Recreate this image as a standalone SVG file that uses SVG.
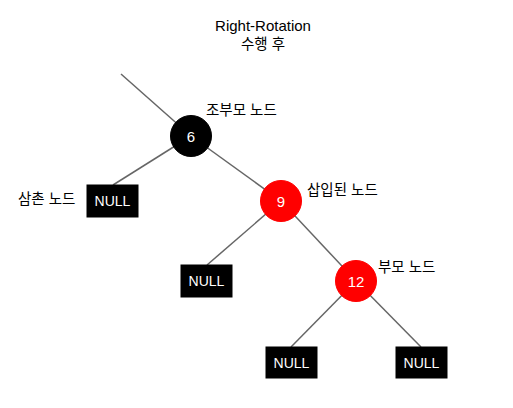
<svg xmlns="http://www.w3.org/2000/svg" width="513" height="408" viewBox="0 0 513 408">
<style>
text{font-family:"Liberation Sans","Noto Sans CJK KR",sans-serif;font-size:13px;fill:#000}
.ko{font-size:14.5px}
.tt{font-size:15px}
.red{fill:#ff0000;stroke:#ff0000}
.blk{fill:#000;stroke:#000}
.w{fill:#fff;font-size:15px;text-anchor:middle;dominant-baseline:central}
.nl{fill:#fff;font-size:14px;text-anchor:middle;dominant-baseline:central}
.edge{stroke:#666;stroke-width:1.5;fill:none}
</style>
<rect width="513" height="408" fill="#fff"/>
<g id="connectors">
<line class="edge" x1="121" y1="74" x2="191" y2="136"/>
<line class="edge" x1="191" y1="136" x2="113" y2="185"/>
<line class="edge" x1="191" y1="136" x2="281" y2="201"/>
<line class="edge" x1="281" y1="201" x2="207" y2="265"/>
<line class="edge" x1="281" y1="201" x2="356" y2="281"/>
<line class="edge" x1="356" y1="281" x2="291" y2="347"/>
<line class="edge" x1="356" y1="281" x2="421" y2="347"/>
</g>
<g id="title"><text class="tt" x="263" y="31" text-anchor="middle">Right-Rotation</text><text class="ko" x="263" y="49" text-anchor="middle">수행 후</text></g>
<g id="n6"><circle class="blk" cx="191" cy="136" r="20.5"/><text class="w" x="191" y="136">6</text></g>
<g id="n9"><circle class="red" cx="281" cy="201" r="20.5"/><text class="w" x="281" y="201">9</text></g>
<g id="n12"><circle class="red" cx="356" cy="281" r="20.5"/><text class="w" x="356" y="281">12</text></g>
<g id="null1"><rect class="blk" x="87" y="185" width="51" height="32"/><text class="nl" x="112.5" y="201">NULL</text></g>
<g id="null2"><rect class="blk" x="181" y="265" width="51" height="32"/><text class="nl" x="206.5" y="281">NULL</text></g>
<g id="null3"><rect class="blk" x="266" y="347" width="51" height="31"/><text class="nl" x="291.5" y="362.5">NULL</text></g>
<g id="null4"><rect class="blk" x="396" y="347" width="51" height="31"/><text class="nl" x="421.5" y="362.5">NULL</text></g>
<g id="labels">
<text class="ko" x="206" y="115">조부모 노드</text>
<text class="ko" x="18" y="204">삼촌 노드</text>
<text class="ko" x="307" y="195">삽입된 노드</text>
<text class="ko" x="378" y="272">부모 노드</text>
</g>
</svg>
